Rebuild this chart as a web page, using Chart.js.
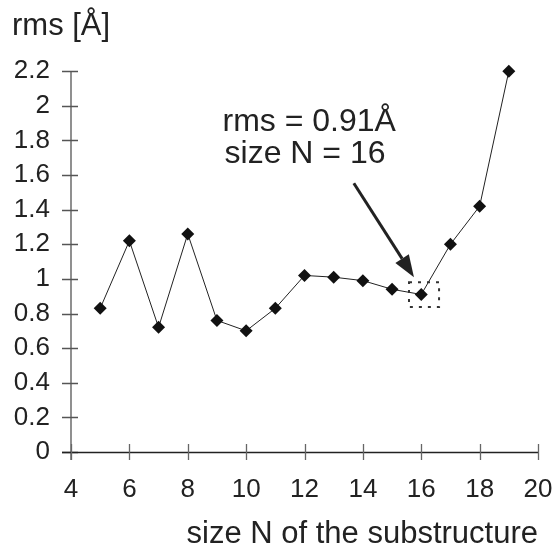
<!DOCTYPE html>
<html>
<head>
<meta charset="utf-8">
<script src="https://cdn.jsdelivr.net/npm/chart.js@4/dist/chart.umd.min.js"></script>
<style>
    html, body { margin: 0; padding: 0; background: #fff; }
    #wrap { width: 552px; height: 547px; }
</style>
</head>
<body>
<div id="wrap"><canvas id="rmsChart" width="552" height="547"></canvas></div>
<script>
/* =========================
   DATA
========================= */

const sizes = [5, 6, 7, 8, 9, 10, 11, 12, 13, 14, 15, 16, 17, 18, 19];
const rmsValues = [0.83, 1.22, 0.72, 1.26, 0.76, 0.70, 0.83, 1.02, 1.01, 0.99, 0.94, 0.91, 1.20, 1.42, 2.20];
const xTickLabels = ["4", "6", "8", "10", "12", "14", "16", "18", "20"];
const yTickLabels = ["0", "0.2", "0.4", "0.6", "0.8", "1", "1.2", "1.4", "1.6", "1.8", "2", "2.2"];

const noteLines = ["rms = 0.91Å", "size N = 16"];
const FONT = "'Liberation Sans', Arial, sans-serif";


/* =========================
   AXES (ticks cross the axis)
========================= */

const crossAxes = {
    id: "crossAxes",
    beforeDatasetsDraw(chart) {
        const { ctx, chartArea: a, scales: { x, y } } = chart;
        ctx.save();

        // y axis + ticks
        ctx.strokeStyle = "#555";
        ctx.lineWidth = 1.3;
        ctx.beginPath();
        ctx.moveTo(a.left, a.top);
        ctx.lineTo(a.left, a.bottom + 8);
        y.ticks.forEach(t => {
            const py = Math.round(y.getPixelForValue(t.value)) + 0.5;
            ctx.moveTo(a.left - 9, py);
            ctx.lineTo(a.left + 7, py);
        });
        ctx.stroke();

        // x axis + ticks
        ctx.strokeStyle = "#222";
        ctx.beginPath();
        ctx.moveTo(a.left - 9, a.bottom + 0.5);
        ctx.lineTo(a.right, a.bottom + 0.5);
        ctx.stroke();
        ctx.strokeStyle = "#666";
        ctx.beginPath();
        x.ticks.forEach(t => {
            const px = Math.round(x.getPixelForValue(t.value)) + 0.5;
            ctx.moveTo(px, a.bottom - 8);
            ctx.lineTo(px, a.bottom + 8);
        });
        ctx.stroke();
        ctx.restore();
    }
};


/* =========================
   ANNOTATION (text, arrow, box)
========================= */

const noteAnnotation = {
    id: "noteAnnotation",
    afterDatasetsDraw(chart) {
        const { ctx, scales: { x, y } } = chart;
        ctx.save();

        // label
        ctx.fillStyle = "#222";
        ctx.font = "32px " + FONT;
        ctx.textAlign = "left";
        ctx.textBaseline = "alphabetic";
        ctx.fillText(noteLines[0], x.getPixelForValue(9.19), y.getPixelForValue(1.853));
        ctx.fillText(noteLines[1], x.getPixelForValue(9.26), y.getPixelForValue(1.668));

        // arrow
        const x0 = x.getPixelForValue(13.69), y0 = y.getPixelForValue(1.553);
        const x1 = x.getPixelForValue(15.75), y1 = y.getPixelForValue(1.01);
        const ang = Math.atan2(y1 - y0, x1 - x0);
        const headLen = 22, headW = 8;
        const bx = x1 - headLen * Math.cos(ang), by = y1 - headLen * Math.sin(ang);
        ctx.strokeStyle = "#222";
        ctx.lineWidth = 3;
        ctx.beginPath();
        ctx.moveTo(x0, y0);
        ctx.lineTo(bx, by);
        ctx.stroke();
        ctx.beginPath();
        ctx.moveTo(x1, y1);
        ctx.lineTo(bx + headW * Math.sin(ang), by - headW * Math.cos(ang));
        ctx.lineTo(bx - headW * Math.sin(ang), by + headW * Math.cos(ang));
        ctx.closePath();
        ctx.fillStyle = "#222";
        ctx.fill();

        // dotted box around N = 16
        const l = x.getPixelForValue(15.58), r = x.getPixelForValue(16.61);
        const t = y.getPixelForValue(0.98), b = y.getPixelForValue(0.837);
        ctx.setLineDash([3, 6]);
        ctx.lineWidth = 2;
        ctx.strokeStyle = "#333";
        ctx.strokeRect(l, t, r - l, b - t);
        ctx.restore();
    }
};


/* =========================
   CHART
========================= */

document.addEventListener("DOMContentLoaded", () => {
    renderRmsChart();
});

function renderRmsChart() {
    const ctx = document.getElementById("rmsChart");
    if (!ctx) return;

    new Chart(ctx, {
        type: "scatter",
        data: {
            datasets: [{
                data: sizes.map((s, i) => ({ x: s, y: rmsValues[i] })),
                showLine: true,
                borderColor: "#222",
                borderWidth: 1,
                pointStyle: "rectRot",
                pointRadius: 6.5,
                pointBackgroundColor: "#111",
                pointBorderColor: "#111",
                pointBorderWidth: 0,
                clip: false
            }]
        },
        options: {
            responsive: false,
            animation: false,
            events: [],
            layout: { padding: { left: 12, right: 14, top: 0, bottom: 0 } },
            plugins: {
                legend: { display: false },
                tooltip: { enabled: false },
                title: {
                    display: true,
                    text: "rms [Å]",
                    align: "start",
                    color: "#222",
                    font: { family: FONT, size: 31, weight: "normal" },
                    padding: { top: 8, bottom: 26 }
                }
            },
            scales: {
                x: {
                    type: "linear",
                    min: 4,
                    max: 20,
                    grid: { display: false, drawTicks: false },
                    border: { display: false },
                    ticks: {
                        stepSize: 2,
                        padding: 22,
                        color: "#222",
                        font: { family: FONT, size: 26 },
                        callback: (v, i) => xTickLabels[i]
                    },
                    title: {
                        display: true,
                        text: "size N of the substructure",
                        align: "end",
                        color: "#222",
                        font: { family: FONT, size: 31 },
                        padding: { top: 0, bottom: -6 }
                    },
                    afterFit: scale => {
                        scale.height = 95;
                        scale.paddingLeft = 0;
                        scale.paddingRight = 0;
                    }
                },
                y: {
                    min: 0,
                    max: 2.2,
                    grid: { display: false, drawTicks: false },
                    border: { display: false },
                    ticks: {
                        stepSize: 0.2,
                        padding: 21,
                        color: "#222",
                        font: { family: FONT, size: 26 },
                        callback: (v, i) => yTickLabels[i]
                    },
                    afterFit: scale => { scale.width = 59; }
                }
            }
        },
        plugins: [crossAxes, noteAnnotation]
    });
}
</script>
</body>
</html>
